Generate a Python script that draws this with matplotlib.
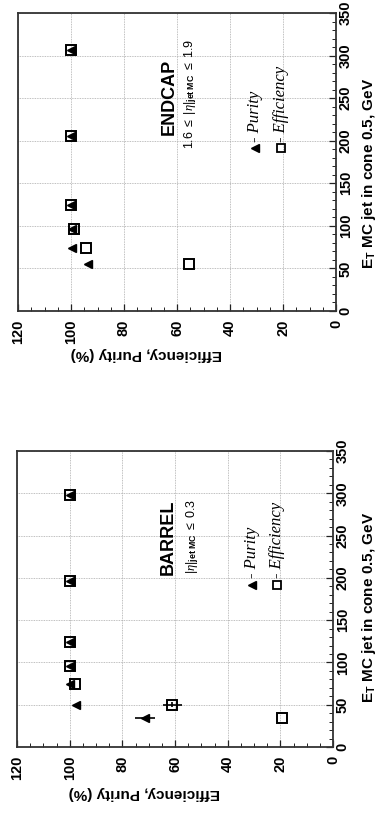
import matplotlib
matplotlib.use('Agg')
import matplotlib.pyplot as plt
from matplotlib.ticker import MultipleLocator

plt.rcParams['font.family'] = ['Liberation Sans', 'DejaVu Sans']
plt.rcParams['mathtext.fontset'] = 'custom'
plt.rcParams['mathtext.rm'] = 'Liberation Sans'
plt.rcParams['mathtext.bf'] = 'Liberation Sans:bold'
plt.rcParams['mathtext.it'] = 'Liberation Serif:italic'

# ENDCAP
endcap_et = [55, 74, 96, 125, 206, 306]
endcap_purity = [93.5, 99.7, 99.7, 100, 100, 100]
endcap_eff = [55.5, 94.3, 98.9, 100, 100, 100]

# BARREL
barrel_et = [34, 50, 74, 96, 124, 196, 298]
barrel_purity = [71.5, 97.5, 99.9, 100, 100, 100, 100]
barrel_purity_err = [3.8, 0, 0, 0, 0, 0, 0]
barrel_eff = [19.5, 61, 98, 100, 100, 100, 100]
barrel_eff_err = [0, 3.5, 0, 0, 0, 0, 0]
barrel_et_err = [0, 3, 0, 0, 0, 0, 0]

xlab = 'Efficiency, Purity (%)'
ylab = r'E$_{\mathbf{T}}$ MC jet in cone 0.5, GeV'

fig = plt.figure(figsize=(3.78, 8.14), dpi=100)
W, H = 378, 814


def make_axes(l, r, t, b):
    ax = fig.add_axes([l / W, 1 - b / H, (r - l) / W, (b - t) / H])
    ax.set_xlim(120, 0)
    ax.set_ylim(0, 350)
    ax.yaxis.tick_right()
    ax.xaxis.set_major_locator(MultipleLocator(20))
    ax.xaxis.set_minor_locator(MultipleLocator(5))
    ax.yaxis.set_major_locator(MultipleLocator(50))
    ax.yaxis.set_minor_locator(MultipleLocator(10))
    ax.tick_params(which='both', direction='in', top=False, left=False,
                   colors='#222222')
    ax.tick_params(which='major', length=5, width=0.9)
    ax.tick_params(which='minor', length=3, width=0.7)
    ax.tick_params(axis='x', pad=6)
    ax.tick_params(axis='y', pad=2)
    for lab in ax.get_xticklabels() + ax.get_yticklabels():
        lab.set_rotation(90)
        lab.set_fontweight('bold')
        lab.set_fontsize(10.5)
        lab.set_color('black')
    for lab in ax.get_yticklabels():
        lab.set_va('center')
    for lab in ax.get_xticklabels():
        lab.set_ha('center')
    for s in ax.spines.values():
        s.set_linewidth(1.3)
        s.set_color('#333333')
    ax.grid(True, which='major', color='#aaaaaa', linestyle=(0, (1, 1)), linewidth=0.6)
    ax.set_axisbelow(True)
    return ax


def legend_text(ax, x_tri, x_sq, y):
    ax.plot([x_tri], [y], marker='<', color='black', ms=6, linestyle='none')
    ax.plot([x_sq], [y], marker='s', mfc='none', mec='black', ms=6, mew=1.3, linestyle='none')
    ax.text(x_tri, y + 8, '- Purity', rotation=90, ha='center', va='bottom',
            family='Liberation Serif', style='italic', fontsize=12)
    ax.text(x_sq, y + 8, '- Efficiency', rotation=90, ha='center', va='bottom',
            family='Liberation Serif', style='italic', fontsize=12)


# top panel: ENDCAP
ax1 = make_axes(18, 336, 13, 311)
ax1.plot(endcap_eff, endcap_et, 's', mfc='none', mec='black', ms=6.5, mew=1.4)
ax1.plot(endcap_purity, endcap_et, '<', color='black', ms=6)
ax1.text(63, 252, 'ENDCAP', rotation=90, ha='center', va='center',
         fontsize=13, fontweight='bold')
ax1.text(55, 255, r'1.6 $\leq$ |$\eta$|$_{\mathbf{jet\ MC}}$ $\leq$ 1.9', rotation=90,
         ha='center', va='center', fontsize=9)
legend_text(ax1, 30.6, 20.8, 191)
ax1.text(1.104, 0.46, ylab, transform=ax1.transAxes, rotation=90,
         ha='center', va='center', fontsize=11, fontweight='bold')
ax1.text(0.404, -0.144, xlab, transform=ax1.transAxes, rotation=180,
         ha='center', va='center', fontsize=11, fontweight='bold')

# bottom panel: BARREL
ax2 = make_axes(17, 333, 451, 747)
ax2.errorbar(barrel_eff, barrel_et, xerr=barrel_eff_err, yerr=barrel_et_err,
             fmt='s', mfc='none', mec='black', ecolor='black', ms=6.5, mew=1.4,
             elinewidth=1.2, capsize=0)
ax2.errorbar(barrel_purity, barrel_et, xerr=barrel_purity_err, fmt='<',
             color='black', ms=6, elinewidth=1.2, capsize=0)
ax2.text(62.7, 248, 'BARREL', rotation=90, ha='center', va='center',
         fontsize=13, fontweight='bold')
ax2.text(53.4, 249, r'|$\eta$|$_{\mathbf{jet\ MC}}$ $\leq$ 0.3', rotation=90,
         ha='center', va='center', fontsize=9)
legend_text(ax2, 30.9, 21.4, 191.6)
ax2.text(1.114, 0.471, ylab, transform=ax2.transAxes, rotation=90,
         ha='center', va='center', fontsize=11, fontweight='bold')
ax2.text(0.403, -0.155, xlab, transform=ax2.transAxes, rotation=180,
         ha='center', va='center', fontsize=11, fontweight='bold')

fig.savefig('out.png', dpi=100)
